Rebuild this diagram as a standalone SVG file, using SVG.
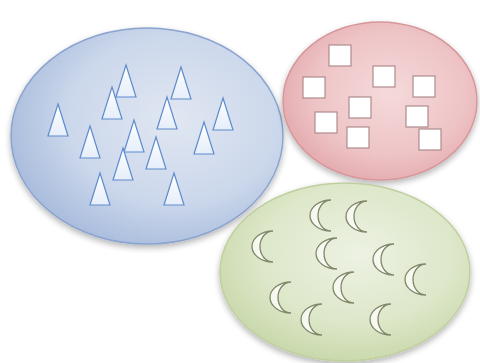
<svg xmlns="http://www.w3.org/2000/svg" width="480" height="363" viewBox="0 0 480 363">
<defs>
<radialGradient id="gb" cx="0.6" cy="0.42" r="0.65">
<stop offset="0" stop-color="#e1e7f2"/><stop offset="0.6" stop-color="#cbd7eb"/><stop offset="1" stop-color="#a6badb"/>
</radialGradient>
<radialGradient id="gr" cx="0.55" cy="0.45" r="0.65">
<stop offset="0" stop-color="#f5dadb"/><stop offset="0.6" stop-color="#eec4c6"/><stop offset="1" stop-color="#e0a2a6"/>
</radialGradient>
<radialGradient id="gg" cx="0.55" cy="0.4" r="0.65">
<stop offset="0" stop-color="#edf2e3"/><stop offset="0.6" stop-color="#dde7c9"/><stop offset="1" stop-color="#c5d6a6"/>
</radialGradient>
<linearGradient id="tf" x1="0" y1="0" x2="0" y2="1">
<stop offset="0" stop-color="#ffffff"/><stop offset="1" stop-color="#e6eefa"/>
</linearGradient>
<linearGradient id="mf" x1="0" y1="0" x2="1" y2="0">
<stop offset="0" stop-color="#f4f7ec"/><stop offset="1" stop-color="#ffffff"/>
</linearGradient>
<filter id="sh" x="-10%" y="-10%" width="120%" height="130%">
<feGaussianBlur in="SourceAlpha" stdDeviation="3"/>
<feOffset dx="0" dy="3"/>
<feComponentTransfer><feFuncA type="linear" slope="0.3"/></feComponentTransfer>
<feMerge><feMergeNode/><feMergeNode in="SourceGraphic"/></feMerge>
</filter>
<polygon id="tri" points="10,0 20,32 0,32"/>
<path id="moon" d="M21 0 A21 15.5 0 0 0 21 31 A13 15.5 0 0 1 21 0 Z"/>
</defs>
<style>
.tri{fill:url(#tf);stroke:#5f8ccb;stroke-width:1.2}
.sq{fill:#ffffff;stroke:#b08a8c;stroke-width:1.2}
.mn{fill:url(#mf);stroke:#7f8768;stroke-width:1.3}
</style>
<g id="blue">
<ellipse cx="147" cy="136" rx="136" ry="108" fill="url(#gb)" stroke="#8aa4cf" stroke-width="1.5" filter="url(#sh)"/>
<use href="#tri" class="tri" x="48" y="104"/>
<use href="#tri" class="tri" x="116" y="65"/>
<use href="#tri" class="tri" x="102" y="87"/>
<use href="#tri" class="tri" x="171" y="67"/>
<use href="#tri" class="tri" x="157" y="97"/>
<use href="#tri" class="tri" x="213" y="98"/>
<use href="#tri" class="tri" x="80" y="126"/>
<use href="#tri" class="tri" x="124" y="120"/>
<use href="#tri" class="tri" x="194" y="122"/>
<use href="#tri" class="tri" x="146" y="137"/>
<use href="#tri" class="tri" x="113" y="148"/>
<use href="#tri" class="tri" x="90" y="173"/>
<use href="#tri" class="tri" x="164" y="173"/>
</g>
<g id="red">
<ellipse cx="380" cy="101" rx="97" ry="79" fill="url(#gr)" stroke="#d6979b" stroke-width="1.5" filter="url(#sh)"/>
<rect class="sq" x="329" y="45" width="22" height="21"/>
<rect class="sq" x="373" y="66" width="22" height="21"/>
<rect class="sq" x="413" y="76" width="22" height="21"/>
<rect class="sq" x="303" y="77" width="22" height="21"/>
<rect class="sq" x="349" y="97" width="22" height="21"/>
<rect class="sq" x="406" y="106" width="22" height="21"/>
<rect class="sq" x="315" y="112" width="22" height="21"/>
<rect class="sq" x="347" y="127" width="22" height="21"/>
<rect class="sq" x="419" y="129" width="22" height="21"/>
</g>
<g id="green">
<ellipse cx="345" cy="272" rx="125" ry="89" fill="url(#gg)" stroke="#bfcfa0" stroke-width="1.5" filter="url(#sh)"/>
<use href="#moon" class="mn" x="310" y="200"/>
<use href="#moon" class="mn" x="346" y="201"/>
<use href="#moon" class="mn" x="252" y="231"/>
<use href="#moon" class="mn" x="316" y="238"/>
<use href="#moon" class="mn" x="373" y="244"/>
<use href="#moon" class="mn" x="405" y="264"/>
<use href="#moon" class="mn" x="333" y="272"/>
<use href="#moon" class="mn" x="270" y="282"/>
<use href="#moon" class="mn" x="301" y="304"/>
<use href="#moon" class="mn" x="370" y="304"/>
</g>
</svg>
